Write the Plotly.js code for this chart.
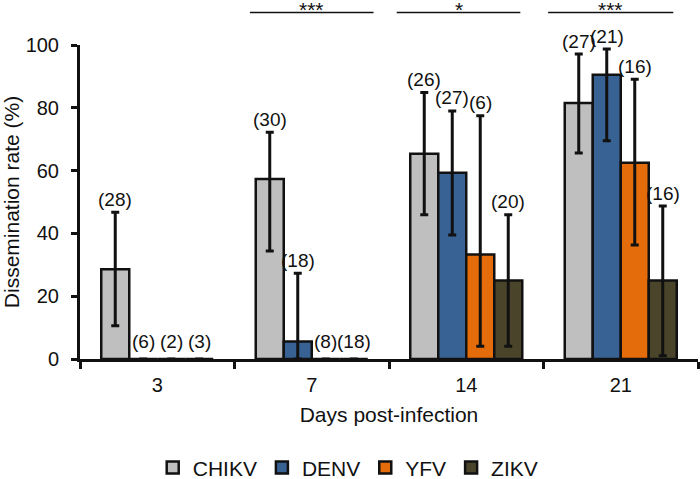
<!DOCTYPE html>
<html>
<head>
<meta charset="utf-8">
<script src="https://cdn.plot.ly/plotly-3.0.1.min.js"></script>
<style>html,body{margin:0;padding:0;background:#fff;}#chart{width:700px;height:479px;}</style>
</head>
<body>
<div id="chart"></div>
<script>
// ---- data ----
const days = ['3', '7', '14', '21'];
const seriesNames = ['CHIKV', 'DENV', 'YFV', 'ZIKV'];

const chikvRate = [28.6, 57.3, 65.4, 81.5];
const denvRate  = [0, 5.6, 59.3, 90.5];
const yfvRate   = [0, 0, 33.3, 62.5];
const zikvRate  = [0, 0, 25.0, 25.0];

// 95% CI upper / lower bounds
const chikvUpper = [46.7, 72.2, 84.9, 97.1];
const chikvLower = [10.6, 34.4, 45.9, 65.6];
const denvUpper  = [0, 27.3, 79.0, 98.7];
const denvLower  = [0, 0, 39.5, 69.5];
const yfvUpper   = [0, 0, 77.5, 89.1];
const yfvLower   = [0, 0, 4.1, 36.3];
const zikvUpper  = [0, 0, 45.9, 48.7];
const zikvLower  = [0, 0, 4.1, 1.0];

// sample sizes
const chikvN = [28, 30, 26, 27];
const denvN  = [6, 18, 27, 21];
const yfvN   = [2, 8, 6, 16];
const zikvN  = [3, 18, 20, 16];

// significance brackets
const sigDayIndex = [1, 2, 3];
const sigLabels = ['***', '*', '***'];

// ---- styling ----
const colors = ['#BFBFBF', '#386294', '#E46C0A', '#4A452A'];
const FONT = 'Liberation Sans, Arial, Helvetica, sans-serif';
const INK = '#111111';
const bargap = 0.275;

const rates = [chikvRate, denvRate, yfvRate, zikvRate];
const uppers = [chikvUpper, denvUpper, yfvUpper, zikvUpper];
const lowers = [chikvLower, denvLower, yfvLower, zikvLower];
const ns = [chikvN, denvN, yfvN, zikvN];

const traces = seriesNames.map((name, s) => ({
  type: 'bar',
  name: name,
  x: days,
  y: rates[s],
  marker: {color: colors[s], line: {color: INK, width: 2.5}},
  error_y: {
    type: 'data',
    symmetric: false,
    array: uppers[s].map((u, i) => Math.max(0, u - rates[s][i])),
    arrayminus: lowers[s].map((l, i) => Math.max(0, rates[s][i] - l)),
    color: INK,
    thickness: 3,
    width: 4
  },
  hoverinfo: 'skip'
}));

const barW = (1 - bargap) / seriesNames.length;
const annotations = [];
seriesNames.forEach((name, s) => {
  days.forEach((d, i) => {
    annotations.push({
      xref: 'x', yref: 'y',
      x: i + (s - 1.5) * barW,
      y: uppers[s][i],
      text: '(' + ns[s][i] + ')',
      showarrow: false,
      yanchor: 'middle',
      yshift: uppers[s][i] === 0 ? 18 : 13,
      borderpad: 0,
      font: {family: FONT, size: 19, color: INK}
    });
  });
});

const sigStart = [-0.40, -0.45, -0.47];
const sigEnd = [0.40, 0.35, 0.34];
const sigY = 1.1035;
const shapes = [];
sigDayIndex.forEach((di, k) => {
  shapes.push({
    type: 'line', xref: 'x', yref: 'paper',
    x0: di + sigStart[k], x1: di + sigEnd[k], y0: sigY, y1: sigY,
    line: {color: INK, width: 1.5}
  });
  annotations.push({
    xref: 'x', yref: 'paper',
    x: di + (sigStart[k] + sigEnd[k]) / 2, y: sigY,
    text: sigLabels[k], showarrow: false,
    yanchor: 'middle', yshift: 3,
    font: {family: FONT, size: 21, color: INK}
  });
});

const layout = {
  width: 700, height: 479,
  margin: {l: 80, r: 2, t: 45, b: 120, autoexpand: false},
  paper_bgcolor: '#ffffff', plot_bgcolor: '#ffffff',
  font: {family: FONT, size: 20, color: INK},
  barmode: 'group', bargap: bargap, bargroupgap: 0,
  showlegend: true,
  legend: {
    orientation: 'h', x: 0.434, xanchor: 'center',
    y: -0.347, yanchor: 'middle',
    font: {family: FONT, size: 21, color: INK},
    itemclick: false, itemdoubleclick: false
  },
  xaxis: {
    type: 'category',
    tickson: 'boundaries',
    ticks: 'outside', ticklen: 7, tickwidth: 3, tickcolor: INK,
    showline: true, linewidth: 3, linecolor: INK,
    showgrid: false, zeroline: false,
    ticklabelstandoff: 6,
    tickfont: {family: FONT, size: 20, color: INK},
    title: {text: 'Days post-infection', font: {family: FONT, size: 21, color: INK}, standoff: 13}
  },
  yaxis: {
    range: [0, 100], tickvals: [0, 20, 40, 60, 80, 100],
    ticks: 'outside', ticklen: 6, tickwidth: 3, tickcolor: INK,
    showline: true, linewidth: 3, linecolor: INK,
    showgrid: false, zeroline: false,
    ticklabelstandoff: 8,
    tickfont: {family: FONT, size: 20, color: INK},
    title: {text: 'Dissemination rate (%)', font: {family: FONT, size: 21, color: INK}, standoff: 8}
  },
  annotations: annotations,
  shapes: shapes
};

Plotly.newPlot('chart', traces, layout, {displayModeBar: false, staticPlot: true});
</script>
</body>
</html>
